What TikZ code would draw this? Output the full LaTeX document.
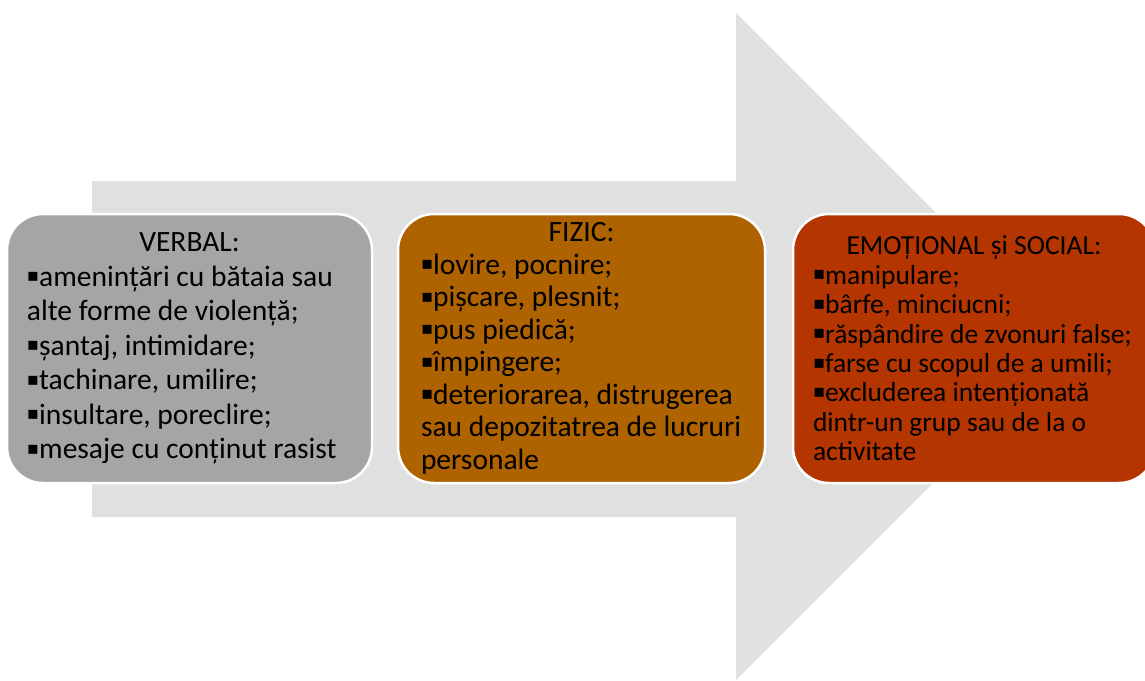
\documentclass[tikz,border=0pt]{standalone}
\usepackage{fontspec}
\setmainfont{Carlito}
\newfontfamily\symfont{DejaVu Sans}
\usetikzlibrary{positioning}
\definecolor{arrowgray}{HTML}{E0E0E0}
\definecolor{verbalgray}{HTML}{A5A5A5}
\definecolor{fizicbrown}{HTML}{AE6200}
\definecolor{socialred}{HTML}{B43500}
\newcommand\sq{{\symfont\fontsize{18}{18}\selectfont\raisebox{4.5pt}{▪}}}
\lineskiplimit=-1000pt
\tikzset{
  formbox/.style={draw=white, line width=2.5pt, rounded corners=36pt,
    minimum height=269pt, inner ysep=0pt, align=flush left},
  formfont/.style 2 args={font=\fontsize{#1}{#2}\selectfont}
}

\begin{document}
\begin{tikzpicture}[x=1pt,y=-1pt]
        \useasboundingbox (0,0) rectangle (1145,680);
        \fill[arrowgray] (92,181) -- (736,181) -- (736,13) -- (1069.5,346.5)
          -- (736,680) -- (736,517) -- (92,517) -- cycle;

        \node[formbox, formfont={29.5}{34.5}, fill=verbalgray, inner xsep=20pt, text width=325pt]
          at (189.5,348.5) (V)
          {\centerline{VERBAL:}
           \sq amenințări cu bătaia sau\\ alte forme de violență;\\ \sq șantaj, intimidare;\\
           \sq tachinare, umilire;\\ \sq insultare, poreclire;\\ \sq mesaje cu conținut rasist};
        \node[formbox, formfont={29.5}{32.5}, fill=fizicbrown, inner xsep=23pt, text width=321pt]
          at (581.5,348.5) (F)
          {\centerline{FIZIC:}
           \sq lovire, pocnire;\\ \sq pișcare, plesnit;\\ \sq pus piedică;\\ \sq împingere;\\
           \sq deteriorarea, distrugerea\\ sau depozitatrea de lucruri\\ personale};
        \node[formbox, formfont={27.5}{29.4}, fill=socialred, inner xsep=20pt, text width=322pt]
          at (974,348.5) (S)
          {\centerline{EMOȚIONAL și SOCIAL:}
           \sq manipulare;\\ \sq bârfe, minciucni;\\ \sq răspândire de zvonuri false;\\
           \sq farse cu scopul de a umili;\\ \sq excluderea intenționată\\
           dintr-un grup sau de la o\\ activitate};
\end{tikzpicture}
\end{document}
